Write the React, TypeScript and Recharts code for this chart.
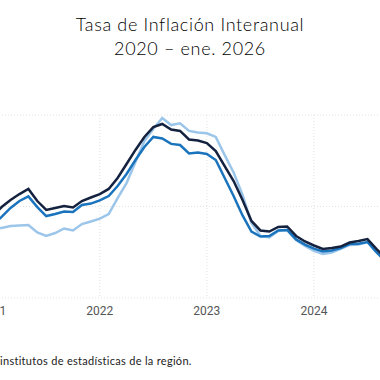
import { LineChart, Line, XAxis, YAxis, CartesianGrid } from 'recharts';

// meses desde ene. 2020 (0 = ene. 2020)
const months = [12, 13, 14, 15, 16, 17, 18, 19, 20, 21, 22, 23, 24, 25, 26, 27, 28, 29, 30, 31, 32, 33, 34, 35, 36, 37, 38, 39, 40, 41, 42, 43, 44, 45, 46, 47, 48, 49, 50, 51, 52, 53, 54, 55, 56];

const serieOscura = [4.48, 4.97, 5.36, 5.68, 5.96, 5.3, 4.81, 4.92, 5.03, 4.95, 5.3, 5.49, 5.68, 5.96, 6.56, 7.32, 8.09, 8.8, 9.34, 9.51, 9.21, 9.13, 8.66, 8.61, 8.47, 8.03, 7.21, 6.39, 5.36, 4.21, 3.69, 3.63, 3.88, 3.91, 3.39, 3.09, 2.87, 2.68, 2.73, 2.81, 3.03, 3.11, 3.22, 2.68, 2.19];
const serieMedia = [3.99, 4.43, 4.92, 5.3, 5.55, 4.97, 4.48, 4.59, 4.73, 4.7, 5.08, 5.16, 5.33, 5.57, 6.12, 6.78, 7.54, 8.25, 8.8, 8.72, 8.42, 8.36, 7.9, 7.95, 7.87, 7.54, 6.56, 5.57, 4.51, 3.63, 3.36, 3.39, 3.69, 3.72, 3.2, 2.92, 2.7, 2.54, 2.6, 2.73, 2.95, 2.96, 3.06, 2.51, 2.02];
const serieClara = [3.77, 3.83, 3.93, 3.96, 3.99, 3.58, 3.39, 3.55, 3.8, 3.69, 4.04, 4.18, 4.34, 4.59, 5.46, 6.28, 7.43, 8.58, 9.23, 9.84, 9.45, 9.55, 9.13, 9.04, 9.0, 8.8, 7.81, 6.86, 5.63, 4.1, 3.39, 3.31, 3.66, 3.72, 3.17, 2.84, 2.57, 2.4, 2.49, 2.68, 2.9, 2.92, 3.06, 2.54, 2.08];

const yearTicks = [12, 24, 36, 48];
const yTicks = [0, 5, 10];

const data = months.map((m, i) => ({
    m,
    oscura: serieOscura[i],
    media: serieMedia[i],
    clara: serieClara[i],
}));

const titleFont = "Lato, 'Open Sans', sans-serif";

export default function App() {
    return (
        <div style={{ position: 'fixed', left: 0, top: 0, width: 380, height: 380, overflow: 'hidden', background: '#fff' }}>
            <div style={{ position: 'absolute', top: 12, left: 0, width: 380, textAlign: 'center', fontFamily: titleFont, fontWeight: 300, fontSize: 18, letterSpacing: 0.65, lineHeight: '24px', color: '#000' }}>
                <div>Tasa de Inflación Interanual</div>
                <div>2020 – ene. 2026</div>
            </div>

            <div style={{ position: 'absolute', left: -43, top: 110 }}>
                <LineChart width={464} height={218} data={data} margin={{ top: 5, right: 0, left: 0, bottom: 0 }}>
                    <CartesianGrid stroke="#e2e2e2" strokeDasharray="1 2" />
                    <XAxis
                        dataKey="m"
                        type="number"
                        domain={[8, 60]}
                        ticks={yearTicks}
                        interval={0}
                        axisLine={false}
                        tickLine={false}
                        tickFormatter={(v: number) => String(2020 + v / 12)}
                        tick={{ fill: '#555', fontSize: 12, fontFamily: "'Liberation Sans Narrow', Roboto, sans-serif" }}
                        height={30}
                    />
                    <YAxis hide domain={[0, 10]} ticks={yTicks} />
                    <Line type="linear" dataKey="clara" stroke="#9cc5ea" strokeWidth={2.5} dot={false} isAnimationActive={false} />
                    <Line type="linear" dataKey="media" stroke="#1a74bd" strokeWidth={2.5} dot={false} isAnimationActive={false} />
                    <Line type="linear" dataKey="oscura" stroke="#14223f" strokeWidth={2.5} dot={false} isAnimationActive={false} />
                </LineChart>
            </div>

            <div style={{ position: 'absolute', left: 0, top: 354, fontFamily: titleFont, fontSize: 11, letterSpacing: 0.3, color: '#222', whiteSpace: 'nowrap' }}>
                institutos de estadísticas de la región.
            </div>
        </div>
    );
}
